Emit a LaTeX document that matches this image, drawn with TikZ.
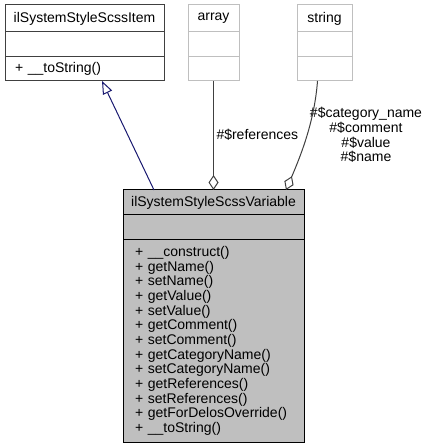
\documentclass[tikz,border=0pt]{standalone}
\usepackage{fontspec}
\setmainfont{Liberation Sans}
\usepackage{tikz}
\usetikzlibrary{positioning}
\usetikzlibrary{arrows.meta}
\definecolor{grey75}{HTML}{BFBFBF}
\definecolor{grey25}{HTML}{404040}
\definecolor{navyline}{HTML}{191970}

\begin{document}
\begin{tikzpicture}[x=0.75pt,y=-0.75pt,font=\fontsize{10.5}{11}\selectfont,line width=0.75pt]
    \useasboundingbox (0,0) rectangle (425,448);
    \begin{scope}[every node/.style={draw, outer sep=0pt, inner ysep=0pt}]
        % base class
        \node(item)[anchor=north west, minimum width=119.25pt, minimum height=20.25pt, draw=grey25] at (5,5) {ilSystemStyleScssItem};
        \node(item-attr)[below=0pt of item, minimum width=119.25pt, minimum height=18.75pt, draw=grey25] {};
        \node(item-ops)[below=0pt of item-attr, inner xsep=7.5pt, text width=104.25pt, align=left, minimum height=18pt, draw=grey25] {+ \_\_toString()};
        % array
        \node(array)[anchor=north west, minimum width=38.25pt, minimum height=20.25pt, draw=grey75] at (188,5) {array};
        \node(array-attr)[below=0pt of array, minimum width=38.25pt, minimum height=18.75pt, draw=grey75] {};
        \node(array-ops)[below=0pt of array-attr, minimum width=38.25pt, minimum height=18pt, draw=grey75] {};
        % string
        \node(string)[anchor=north west, minimum width=41.25pt, minimum height=20.25pt, draw=grey75] at (297,5) {string};
        \node(string-attr)[below=0pt of string, minimum width=41.25pt, minimum height=18.75pt, draw=grey75] {};
        \node(string-ops)[below=0pt of string-attr, minimum width=41.25pt, minimum height=18pt, draw=grey75] {};
        % the class itself
        \node(var)[anchor=north west, minimum width=135.75pt, minimum height=18.75pt, fill=grey75] at (123,190) {ilSystemStyleScssVariable};
        \node(var-attr)[below=0pt of var, minimum width=135.75pt, minimum height=18.75pt, fill=grey75] {};
        \node(var-ops)[below=0pt of var-attr, inner xsep=9pt, text width=117.75pt, align=left, minimum height=151.5pt, fill=grey75] {%
            + \_\_construct()\\
            + getName()\\
            + setName()\\
            + getValue()\\
            + setValue()\\
            + getComment()\\
            + setComment()\\
            + getCategoryName()\\
            + setCategoryName()\\
            + getReferences()\\
            + setReferences()\\
            + getForDelosOverride()\\
            + \_\_toString()};
    \end{scope}
    %Labels
    \node(refs)[anchor=west, inner sep=0pt] at (216,135) {\#\$references};
    \node(fields)[align=center, inner sep=0pt] at (366,135) {\#\$category\_name\\ \#\$comment\\ \#\$value\\ \#\$name};
    %Lines
    \draw[navyline, -{Triangle[open, length=9.75pt, width=7.5pt]}]
        ([xshift=23.25pt]var.north west) -- ([xshift=72.75pt]item-ops.south west);
    \draw[grey25, -{Diamond[open, length=11.25pt, width=7.5pt]}]
        (array-ops.south) -- (array-ops.south |- var.north);
    \draw[grey25, -{Diamond[open, length=11.25pt, width=7.5pt]}]
        ([xshift=-5.25pt]string-ops.south) .. controls +(-3,40) and +(15,-35) .. ([xshift=-13.5pt]var.north east);
\end{tikzpicture}
\end{document}
